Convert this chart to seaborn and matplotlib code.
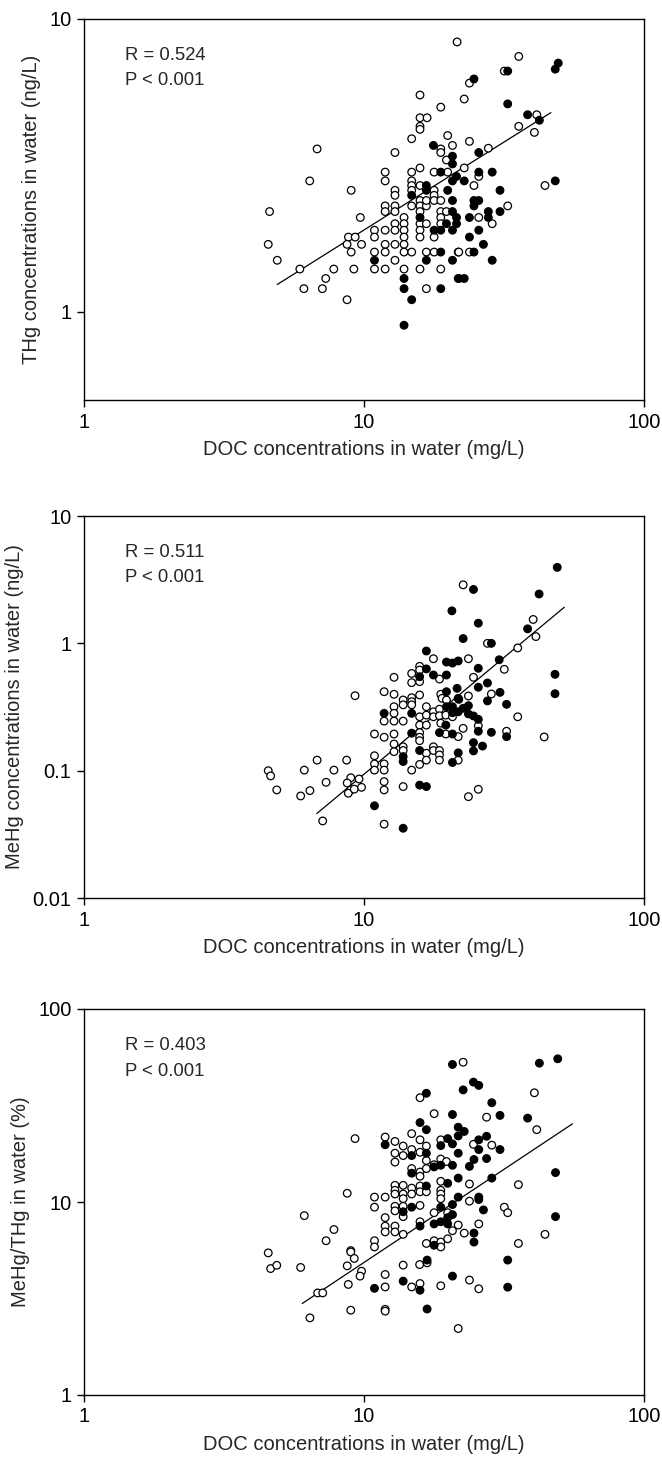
import numpy as np
import pandas as pd
import matplotlib
matplotlib.use("Agg")
import matplotlib.pyplot as plt
from matplotlib.ticker import NullLocator
import seaborn as sns

# ---- Panel 1: THg vs DOC ----
thg_open = [
    (4.6, 2.2), (4.55, 1.7), (4.9, 1.5),
    (21.5, 8.35), (15.85, 5.5), (18.8, 5.0), (15.85, 4.6), (16.8, 4.6), (15.85, 4.3), (15.85, 4.2),
    (14.8, 3.9), (19.9, 4.0), (18.8, 3.6), (20.7, 3.7), (18.8, 3.5), (19.7, 3.3), (6.8, 3.6), (12.9, 3.5),
    (6.4, 2.8), (9.0, 2.6), (11.9, 3.0), (11.9, 2.8), (12.9, 2.6), (12.9, 2.5), (14.8, 3.0), (15.85, 3.1),
    (14.8, 2.8), (17.8, 3.0), (19.9, 3.0), (14.8, 2.7), (15.85, 2.7), (14.8, 2.6), (17.8, 2.6), (17.8, 2.5),
    (15.85, 2.4), (11.9, 2.3), (12.9, 2.3), (14.8, 2.3), (15.85, 2.3), (16.7, 2.3),
    (9.7, 2.1), (11.9, 2.2), (12.9, 2.2), (16.7, 2.4), (17.8, 2.4), (18.8, 2.4), (15.85, 2.2), (18.8, 2.2),
    (19.7, 2.2), (13.9, 2.1), (18.8, 2.1), (12.9, 2.0), (13.9, 2.0), (15.85, 2.0), (16.7, 2.0), (18.8, 2.0),
    (10.9, 1.9), (11.9, 1.9), (12.9, 1.9), (13.9, 1.9), (15.85, 1.9), (8.8, 1.8), (9.3, 1.8), (10.9, 1.8),
    (13.9, 1.8), (15.85, 1.8), (17.8, 1.8), (8.7, 1.7), (9.8, 1.7), (11.9, 1.7), (12.9, 1.7), (13.9, 1.7),
    (9.0, 1.6), (10.9, 1.6), (11.9, 1.6), (13.9, 1.6), (14.8, 1.6), (16.7, 1.6), (17.8, 1.6), (21.7, 1.6),
    (12.9, 1.5), (5.9, 1.4), (7.8, 1.4), (9.2, 1.4), (10.9, 1.4), (11.9, 1.4), (13.9, 1.4), (15.85, 1.4),
    (18.8, 1.4), (7.3, 1.3), (6.1, 1.2), (7.1, 1.2), (16.7, 1.2), (8.7, 1.1),
    (35.7, 7.45), (31.7, 6.64), (23.8, 6.04), (22.8, 5.33), (41.4, 4.71), (35.7, 4.3), (40.6, 4.1),
    (23.8, 3.82), (27.8, 3.62), (22.8, 3.1), (25.7, 2.9), (24.7, 2.7), (32.6, 2.3), (25.7, 2.1),
    (28.7, 2.0), (21.8, 1.6), (23.8, 1.6), (44.3, 2.7),
]
thg_filled = [
    (17.7, 3.7), (20.7, 3.4), (20.7, 3.2), (18.8, 3.0), (16.7, 2.7), (16.7, 2.6), (14.8, 2.5), (19.9, 2.6),
    (20.7, 2.8), (21.4, 2.9), (20.7, 2.4),
    (20.7, 2.2), (15.85, 2.1), (21.4, 2.1), (19.7, 2.0), (21.4, 2.0), (17.8, 1.9), (18.8, 1.9), (20.7, 1.9),
    (18.8, 1.6), (10.9, 1.5), (16.7, 1.5), (20.7, 1.5), (13.9, 1.3), (21.7, 1.3), (13.9, 1.2), (18.8, 1.2),
    (14.8, 1.1), (13.9, 0.9),
    (32.6, 6.64), (49.4, 7.07), (48.2, 6.74), (24.7, 6.24), (32.6, 5.13), (38.4, 4.71), (42.3, 4.51),
    (25.7, 3.5), (25.7, 3.0), (28.7, 3.0), (22.8, 2.8), (30.6, 2.6), (24.7, 2.4), (25.7, 2.4), (24.7, 2.3),
    (27.8, 2.2), (30.6, 2.2), (27.8, 2.1), (23.8, 2.1), (25.7, 1.9), (23.8, 1.8), (26.7, 1.7), (24.7, 1.6),
    (28.7, 1.5), (21.8, 1.3), (22.8, 1.3), (48.2, 2.8),
]
thg_fit_x = [4.9, 46.5]
thg_fit_y = [1.24, 4.79]

# ---- Panel 2: MeHg vs DOC ----
mehg_open = [
    (4.55, 0.100), (4.64, 0.091), (4.88, 0.0706),
    (17.7, 0.757), (15.8, 0.66), (15.8, 0.617), (14.8, 0.58), (18.6, 0.524), (12.8, 0.541), (14.8, 0.491),
    (15.8, 0.50), (9.29, 0.388), (11.8, 0.417), (12.8, 0.398), (15.8, 0.393), (14.8, 0.374), (18.8, 0.398),
    (13.8, 0.359), (14.8, 0.348), (19.0, 0.37), (19.7, 0.359), (12.8, 0.318), (13.8, 0.329), (14.8, 0.329),
    (16.7, 0.318), (17.7, 0.29), (18.6, 0.304), (12.8, 0.282), (15.8, 0.265), (16.7, 0.273),
    (12.8, 0.245), (11.8, 0.245), (13.8, 0.245), (15.8, 0.228), (16.7, 0.228), (17.7, 0.265), (18.6, 0.27),
    (19.6, 0.273), (20.7, 0.265), (18.8, 0.236), (19.6, 0.194), (10.9, 0.194), (11.8, 0.183), (12.8, 0.194),
    (15.8, 0.199), (15.8, 0.183), (15.8, 0.172), (12.8, 0.162), (13.8, 0.154), (13.8, 0.144), (12.8, 0.141),
    (17.7, 0.154), (17.7, 0.144), (16.7, 0.137), (18.6, 0.144), (18.6, 0.133), (18.6, 0.121), (16.7, 0.121),
    (21.7, 0.121), (10.9, 0.131), (10.9, 0.113), (10.9, 0.101), (11.8, 0.113), (11.8, 0.101), (14.8, 0.101),
    (15.8, 0.112), (11.8, 0.082), (11.8, 0.0706), (13.8, 0.075), (11.8, 0.038), (7.12, 0.0403),
    (5.94, 0.0633), (6.12, 0.101), (6.41, 0.0697), (6.8, 0.121), (7.32, 0.081), (7.81, 0.101), (8.67, 0.121),
    (8.97, 0.088), (8.71, 0.080), (9.6, 0.086), (8.97, 0.0706), (8.79, 0.0665), (9.23, 0.0716), (9.8, 0.074),
    (22.6, 2.88), (40.2, 1.54), (41.1, 1.13), (27.6, 1.0), (35.4, 0.92), (23.6, 0.757), (31.7, 0.625),
    (24.6, 0.541), (28.5, 0.40), (23.6, 0.386), (35.4, 0.265), (25.6, 0.225), (22.6, 0.215), (32.3, 0.204),
    (44.0, 0.184), (21.7, 0.185), (25.6, 0.0714), (23.6, 0.0625),
]
mehg_filled = [
    (20.6, 1.80), (16.7, 0.87), (19.7, 0.713), (20.7, 0.70), (21.7, 0.727), (16.7, 0.63), (15.8, 0.547),
    (17.7, 0.564), (19.7, 0.564), (19.7, 0.417), (21.5, 0.443), (20.7, 0.318), (21.7, 0.37), (19.7, 0.318),
    (20.7, 0.285), (21.7, 0.29), (11.8, 0.282), (14.8, 0.282),
    (19.6, 0.228), (18.6, 0.199), (20.7, 0.194), (14.8, 0.197), (15.8, 0.144), (13.8, 0.129), (13.8, 0.118),
    (20.7, 0.116), (21.7, 0.138), (15.8, 0.077), (16.7, 0.075), (10.9, 0.053), (13.8, 0.0353),
    (49.0, 3.95), (24.6, 2.65), (42.2, 2.44), (25.6, 1.44), (38.4, 1.30), (22.6, 1.09), (28.5, 1.0),
    (30.4, 0.743), (25.6, 0.637), (48.1, 0.571), (25.6, 0.452), (27.6, 0.488), (30.6, 0.412), (48.1, 0.402),
    (27.6, 0.353), (21.8, 0.363), (32.3, 0.332), (23.6, 0.324), (22.6, 0.309), (23.6, 0.279), (24.6, 0.269),
    (25.6, 0.253), (25.6, 0.204), (28.5, 0.20), (32.3, 0.185), (24.6, 0.166), (24.6, 0.143), (26.5, 0.156),
]
mehg_fit_x = [6.78, 51.9]
mehg_fit_y = [0.046, 1.92]

# ---- Panel 3: MeHg/THg vs DOC ----
ratio_open = [
    (4.55, 5.45), (4.64, 4.52), (4.88, 4.70),
    (15.85, 34.7), (17.8, 28.7), (9.29, 21.3), (11.9, 21.7), (12.9, 20.6), (14.8, 22.6), (15.85, 21.0),
    (13.8, 19.5), (16.7, 19.5), (18.8, 21.0), (12.9, 17.9), (12.9, 16.1), (13.8, 17.4), (14.8, 18.7),
    (15.85, 18.1), (16.7, 16.4), (18.8, 16.7), (17.8, 15.6), (19.7, 16.2), (14.8, 14.9), (15.85, 14.3),
    (15.85, 13.6), (16.7, 14.9), (18.8, 12.8), (10.9, 10.6), (11.9, 10.6), (10.9, 9.4), (12.9, 12.2),
    (12.9, 11.5), (12.9, 11.0), (13.8, 12.2), (13.8, 11.0), (13.8, 10.4), (14.8, 11.8), (14.8, 11.0),
    (15.85, 12.1), (15.85, 11.3), (16.7, 11.3), (18.8, 11.5), (18.8, 11.0), (18.8, 10.4), (8.71, 11.1),
    (6.12, 8.5), (11.9, 8.3), (12.9, 9.5), (12.9, 9.0), (13.8, 9.5), (13.8, 8.4), (15.85, 9.6), (17.8, 8.8),
    (19.9, 8.8), (7.81, 7.2), (7.32, 6.3), (11.9, 7.5), (11.9, 7.0), (12.9, 7.5), (12.9, 7.0), (13.8, 6.8),
    (15.85, 7.9), (20.7, 7.1), (21.7, 7.6), (10.9, 6.3), (10.9, 5.85), (16.7, 6.1), (17.8, 6.3), (18.8, 6.2),
    (19.9, 6.45), (18.8, 5.85), (8.97, 5.6),
    (5.94, 4.58), (6.41, 2.51), (6.83, 3.38), (7.12, 3.38), (8.97, 5.51), (9.23, 5.1), (8.71, 4.67),
    (9.8, 4.38), (9.68, 4.13), (8.79, 3.74), (8.97, 2.75), (11.9, 4.21), (11.9, 3.63), (11.9, 2.78),
    (11.9, 2.72), (13.8, 4.71), (14.8, 3.63), (15.85, 3.78), (15.8, 4.74), (16.8, 4.84), (18.8, 3.68),
    (21.7, 2.21),
    (22.6, 53.0), (40.6, 36.8), (27.4, 27.5), (41.4, 23.7), (24.6, 19.9), (28.6, 19.7), (23.8, 12.4),
    (35.6, 12.3), (23.8, 10.1), (31.7, 9.4), (32.6, 8.8), (25.7, 7.7), (22.8, 6.9), (35.6, 6.1), (44.3, 6.8),
    (23.8, 3.94), (25.7, 3.55),
]
ratio_filled = [
    (20.7, 51.6), (16.7, 36.6), (20.7, 28.4), (15.85, 25.8), (16.7, 23.7), (21.7, 24.4), (11.9, 19.8),
    (19.9, 21.3), (20.7, 20.0), (21.7, 22.0), (18.8, 19.6), (14.8, 17.4), (16.7, 17.9), (18.8, 15.5),
    (20.7, 15.5), (21.7, 17.9), (14.8, 14.1), (17.8, 15.2), (21.7, 13.3), (19.9, 12.5), (16.7, 12.1),
    (21.7, 10.6), (13.8, 8.9), (14.8, 9.4), (18.8, 9.4), (20.7, 9.7), (20.7, 8.6), (15.85, 7.5), (17.8, 7.7),
    (18.8, 7.9), (19.9, 7.7), (17.8, 5.97),
    (10.9, 3.57), (13.8, 3.89), (15.85, 3.49), (16.8, 5.0), (16.8, 2.79), (20.7, 4.13),
    (42.3, 52.4), (49.2, 55.2), (24.6, 41.8), (25.7, 40.2), (22.6, 38.1), (28.6, 32.7), (30.6, 28.1),
    (38.4, 27.2), (22.8, 23.2), (27.4, 21.9), (25.7, 21.0), (25.7, 18.7), (30.6, 18.7), (24.7, 16.6),
    (27.4, 16.8), (23.8, 15.3), (28.6, 13.3), (48.3, 14.2), (25.7, 10.6), (25.7, 10.3), (26.7, 9.1),
    (48.3, 8.4), (19.9, 8.3), (24.7, 6.9), (24.7, 6.2), (32.6, 5.0), (32.6, 3.62),
]
ratio_fit_x = [6.02, 55.5]
ratio_fit_y = [2.98, 25.4]

x_ticks = [1, 10, 100]
x_ticklabels = ["1", "10", "100"]
x_label = "DOC concentrations in water (mg/L)"

panels = [
    dict(open=thg_open, filled=thg_filled, fx=thg_fit_x, fy=thg_fit_y, ylim=(0.5, 10),
         yticks=[1, 10], yticklabels=["1", "10"],
         ylabel="THg concentrations in water (ng/L)", r="R = 0.524"),
    dict(open=mehg_open, filled=mehg_filled, fx=mehg_fit_x, fy=mehg_fit_y, ylim=(0.01, 10),
         yticks=[0.01, 0.1, 1, 10], yticklabels=["0.01", "0.1", "1", "10"],
         ylabel="MeHg concentrations in water (ng/L)", r="R = 0.511"),
    dict(open=ratio_open, filled=ratio_filled, fx=ratio_fit_x, fy=ratio_fit_y, ylim=(1, 100),
         yticks=[1, 10, 100], yticklabels=["1", "10", "100"],
         ylabel="MeHg/THg in water (%)", r="R = 0.403"),
]

sns.set_style("ticks")
plt.rcParams["font.family"] = ["Liberation Sans", "DejaVu Sans"]

W, H = 662, 1457
fig = plt.figure(figsize=(W / 100, H / 100), dpi=100)

# axes boxes in pixels: (left, top, right, bottom)
boxes = [(84, 19, 644, 400), (84, 516, 644, 898), (84, 1009, 644, 1395)]

for p, (l, t, r, b) in zip(panels, boxes):
    ax = fig.add_axes([l / W, 1 - b / H, (r - l) / W, (b - t) / H])
    df = pd.concat([
        pd.DataFrame(p["open"], columns=["doc", "val"]).assign(group="open"),
        pd.DataFrame(p["filled"], columns=["doc", "val"]).assign(group="filled"),
    ])
    sns.scatterplot(data=df, x="doc", y="val", hue="group",
                    palette={"open": "white", "filled": "black"},
                    edgecolor="black", linewidth=0.9, s=30, legend=False, ax=ax, zorder=3)
    ax.plot(p["fx"], p["fy"], color="black", linewidth=0.9, zorder=2)
    ax.set_xscale("log")
    ax.set_yscale("log")
    ax.set_xlim(1, 100)
    ax.set_ylim(*p["ylim"])
    ax.set_xticks(x_ticks)
    ax.set_xticklabels(x_ticklabels)
    ax.set_yticks(p["yticks"])
    ax.set_yticklabels(p["yticklabels"])
    ax.xaxis.set_minor_locator(NullLocator())
    ax.yaxis.set_minor_locator(NullLocator())
    ax.tick_params(direction="out", length=5, width=1, labelsize=14.5, colors="black", pad=4)
    for s in ax.spines.values():
        s.set_visible(True)
        s.set_linewidth(1.0)
        s.set_color("black")
    ax.set_xlabel(x_label, fontsize=14.5, labelpad=6)
    ax.set_ylabel(p["ylabel"], fontsize=14.5, labelpad=6)
    ax.text(0.073, 0.905, p["r"], transform=ax.transAxes, fontsize=13.3, va="center", ha="left")
    ax.text(0.073, 0.838, "P < 0.001", transform=ax.transAxes, fontsize=13.3, va="center", ha="left")

fig.savefig("out.png", dpi=100, facecolor="white")
